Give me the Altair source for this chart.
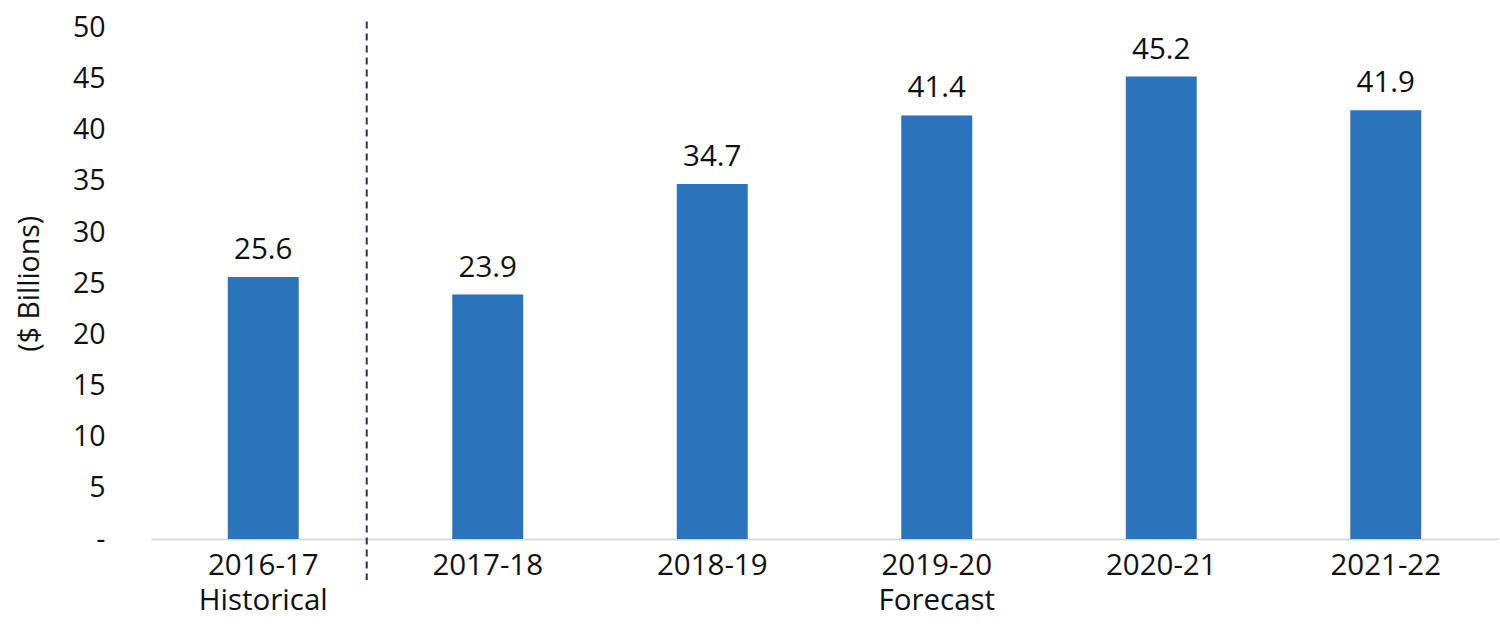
import altair as alt
import pandas as pd

years = ["2016-17", "2017-18", "2018-19", "2019-20", "2020-21", "2021-22"]
values = [25.6, 23.9, 34.7, 41.4, 45.2, 41.9]
labels = ["25.6", "23.9", "34.7", "41.4", "45.2", "41.9"]
y_ticks = [0, 5, 10, 15, 20, 25, 30, 35, 40, 45, 50]
divider_after = ["2016-17"]

df = pd.DataFrame({"year": years, "value": values, "label": labels})
div_df = pd.DataFrame({"year": divider_after})

FONT = "Open Sans"
W, H = 1347, 511.5

x_scale = alt.Scale(domain=years, paddingInner=0.684, paddingOuter=0.342)
y_scale = alt.Scale(domain=[0, 50], nice=False)

label_expr = ("datum.value == '2016-17' ? ['2016-17', 'Historical'] : "
              "(datum.value == '2019-20' ? ['2019-20', 'Forecast'] : datum.value)")

bars = alt.Chart(df).mark_bar(color="#2B73BA").encode(
    x=alt.X("year:N", scale=x_scale, sort=years,
            axis=alt.Axis(title=None, labelAngle=0, labelExpr=label_expr,
                          labelFont=FONT, labelFontSize=29.5, labelColor="#111111",
                          labelPadding=12, labelLineHeight=35,
                          domainColor="#D9D9D9", domainWidth=2, ticks=False)),
    y=alt.Y("value:Q", scale=y_scale,
            axis=alt.Axis(title="($ Billions)", values=y_ticks,
                          labelExpr="datum.value == 0 ? '-' : datum.label",
                          labelFont=FONT, labelFontSize=28.5, labelColor="#111111",
                          labelPadding=46, titleFont=FONT, titleFontSize=28.5,
                          titleFontWeight="normal", titleColor="#111111",
                          titlePadding=28, domain=False, ticks=False, grid=False)),
)

text = alt.Chart(df).mark_text(font=FONT, fontSize=29.5, color="#111111",
                               baseline="alphabetic", dy=-18).encode(
    x=alt.X("year:N", scale=x_scale, sort=years),
    y=alt.Y("value:Q", scale=y_scale),
    text="label:N",
)

divider = alt.Chart(div_df).mark_rule(color="#1F3864", strokeWidth=2,
                                      strokeDash=[7, 5], xOffset=68).encode(
    x=alt.X("year:N", scale=x_scale, sort=years, bandPosition=1),
    y=alt.value(-6),
    y2=alt.value(H + 41),
)

chart = alt.layer(bars, text, divider).properties(
    width=W, height=H,
    background="white",
    autosize=alt.AutoSizeParams(type="none"),
    padding={"left": 151, "top": 27.5, "right": 2, "bottom": 92},
).configure_view(stroke=None, strokeWidth=0)

chart.save("out.html", embed_options={"renderer": "svg", "actions": False})
